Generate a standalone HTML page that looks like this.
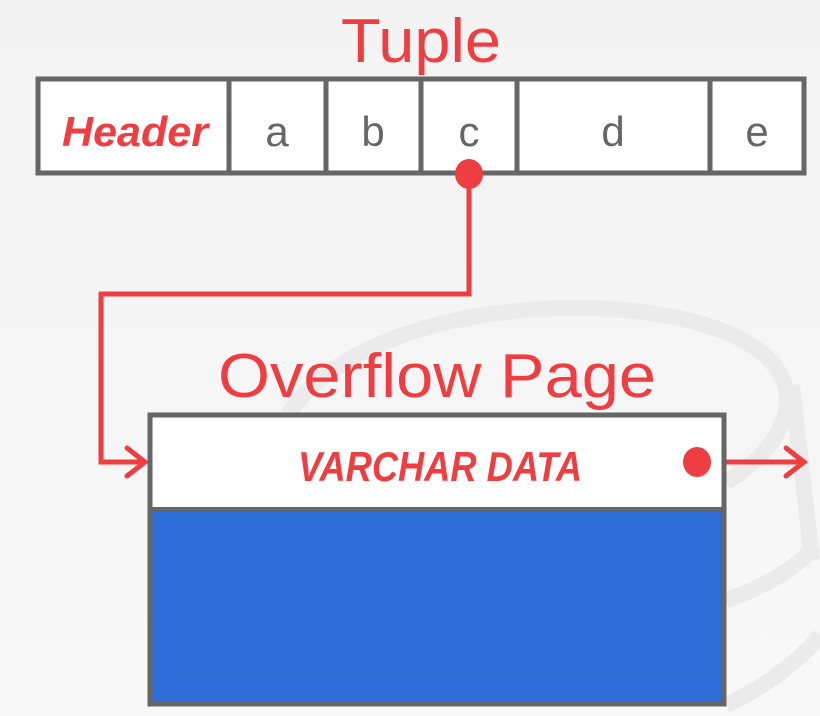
<!DOCTYPE html>
<html><head><meta charset="utf-8"><style>
html,body{margin:0;padding:0;background:#f4f4f4;}
svg{display:block}
</style></head><body>
<svg width="820" height="716" viewBox="0 0 820 716" xmlns="http://www.w3.org/2000/svg">
<defs>
<linearGradient id="bg" x1="0" y1="0" x2="0" y2="1">
<stop offset="0" stop-color="#f3f3f3"/><stop offset="1" stop-color="#f8f8f8"/>
</linearGradient>
</defs>
<rect width="820" height="716" fill="url(#bg)"/>
<!-- faint cylinder -->
<g fill="none" stroke="#ebebeb" stroke-width="16">
<path d="M285 420 C330 340 470 305 590 308 C700 312 770 340 785 385 C795 420 765 460 726 482"/>
<path d="M792 385 L812 560"/>
<path d="M726 600 C770 585 800 565 815 545"/>
<path d="M726 705 C770 685 805 655 820 635"/>
</g>
<!-- Tuple title -->
<text x="421" y="62" text-anchor="middle" font-family="Liberation Sans, sans-serif" font-size="62" fill="#ef3e42" textLength="160" lengthAdjust="spacingAndGlyphs">Tuple</text>
<!-- tuple box -->
<rect x="38" y="79" width="766" height="94" fill="#fff" stroke="#666" stroke-width="5"/>
<g stroke="#666" stroke-width="5">
<line x1="229" y1="79" x2="229" y2="173"/>
<line x1="326" y1="79" x2="326" y2="173"/>
<line x1="421" y1="79" x2="421" y2="173"/>
<line x1="517" y1="79" x2="517" y2="173"/>
<line x1="710" y1="79" x2="710" y2="173"/>
</g>
<text x="135" y="146" text-anchor="middle" font-family="Liberation Sans, sans-serif" font-weight="bold" font-style="italic" font-size="42" fill="#ef3e42" textLength="146" lengthAdjust="spacingAndGlyphs">Header</text>
<g font-family="Liberation Sans, sans-serif" font-size="42" fill="#666" text-anchor="middle">
<text x="277" y="146">a</text>
<text x="373" y="146">b</text>
<text x="469" y="146">c</text>
<text x="613" y="146">d</text>
<text x="757" y="146">e</text>
</g>
<!-- connector -->
<g stroke="#ef3e42" stroke-width="5" fill="none" stroke-linejoin="miter">
<polyline points="469,175 469,294 101,294 101,462 145,462"/>
<polyline points="127,448 145,462 127,476" stroke-linecap="round"/>
<line x1="697" y1="462" x2="804" y2="462"/>
<polyline points="786,448 804,462 786,476" stroke-linecap="round"/>
</g>
<ellipse cx="469" cy="174" rx="14" ry="15" fill="#ef3e42"/>
<!-- overflow title -->
<text x="437" y="397" text-anchor="middle" font-family="Liberation Sans, sans-serif" font-size="62" fill="#ef3e42" textLength="438" lengthAdjust="spacingAndGlyphs">Overflow Page</text>
<!-- overflow box -->
<rect x="150" y="415" width="574" height="289" fill="#2d6bd7" stroke="#666" stroke-width="5"/>
<rect x="152.5" y="417.5" width="569" height="90" fill="#fff"/>
<line x1="150" y1="509" x2="724" y2="509" stroke="#666" stroke-width="4"/>
<text x="440" y="481" text-anchor="middle" font-family="Liberation Sans, sans-serif" font-weight="bold" font-style="italic" font-size="42" fill="#ef3e42" textLength="284" lengthAdjust="spacingAndGlyphs">VARCHAR  DATA</text>
<ellipse cx="697" cy="462" rx="14" ry="15" fill="#ef3e42"/>
</svg>
</body></html>
